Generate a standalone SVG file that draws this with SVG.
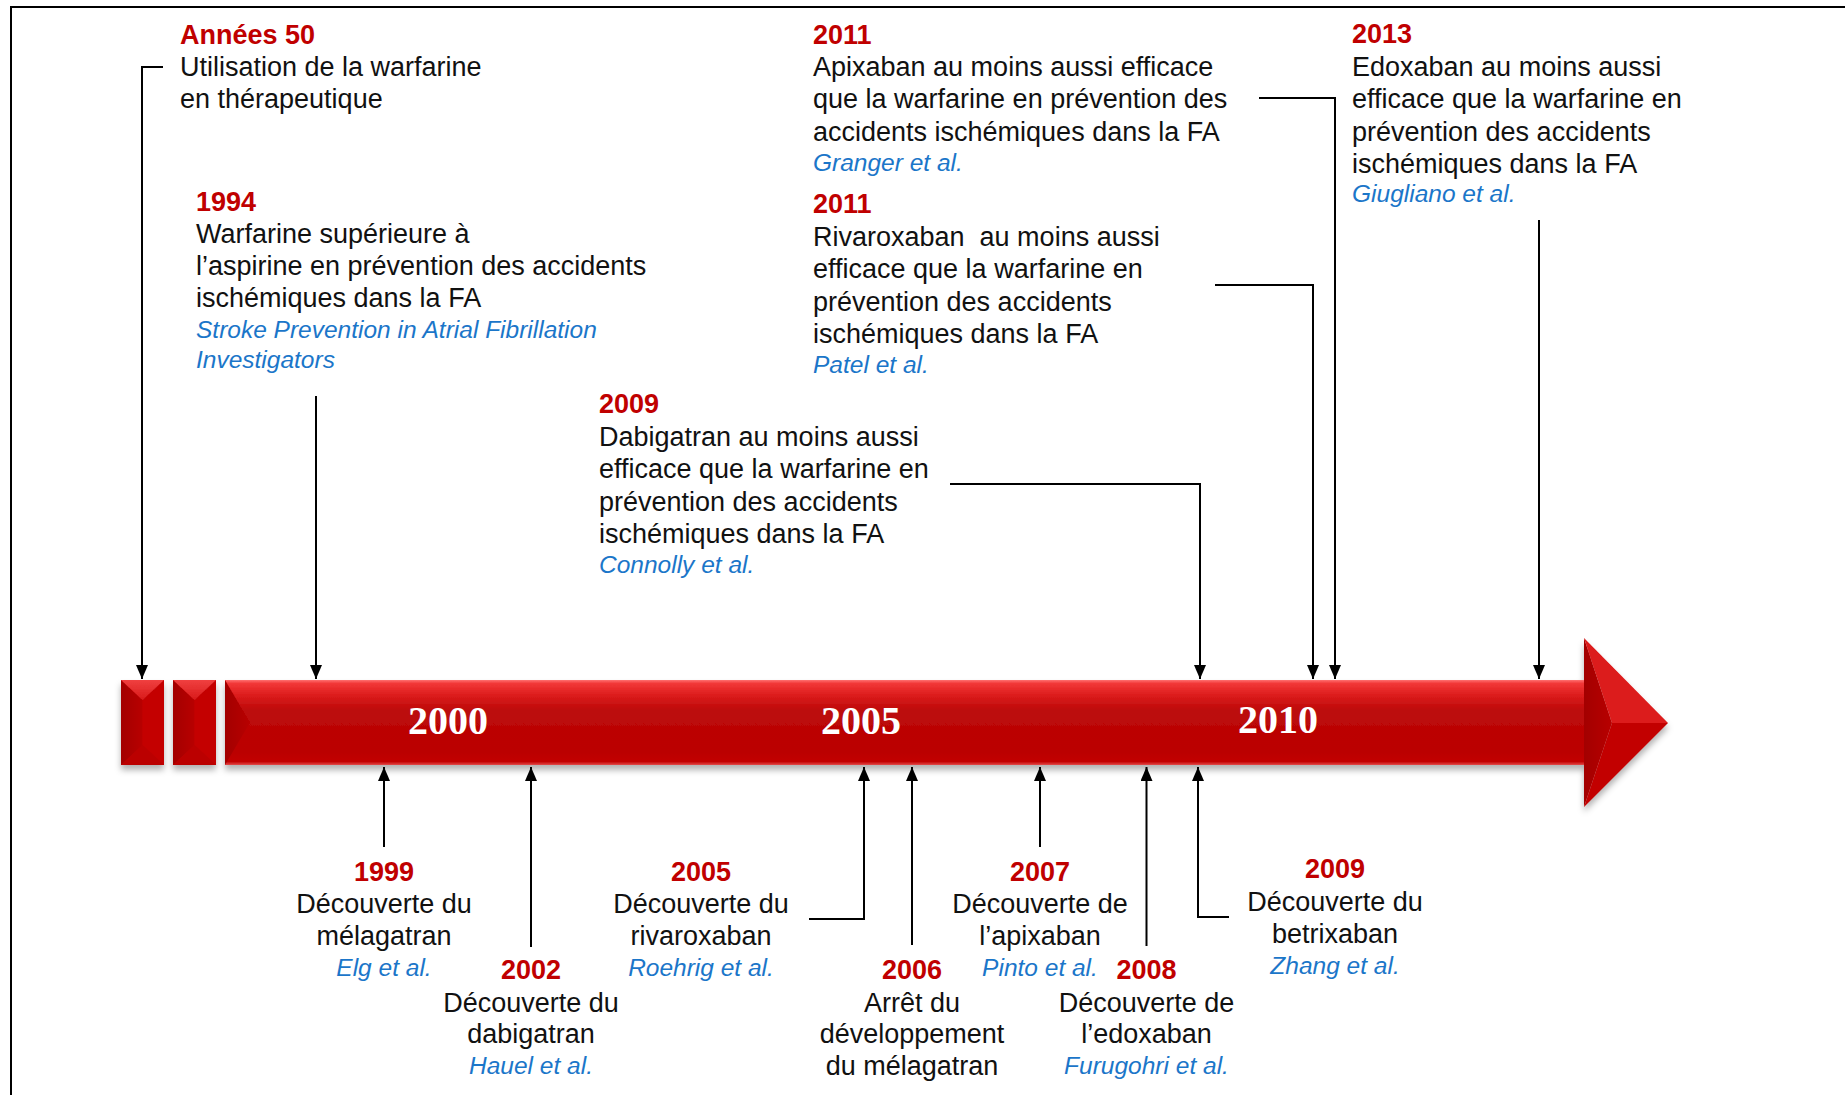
<svg xmlns="http://www.w3.org/2000/svg" width="1845" height="1095" viewBox="0 0 1845 1095">
<style>
text{font-family:"Liberation Sans",Arial,sans-serif}
.yr{font-size:27px;font-weight:bold;fill:#C00000}
.tx{font-size:27px;fill:#111}
.ref{font-size:24.5px;font-style:italic;fill:#1B76C9}
.c{text-anchor:middle}
.bar{font-family:"Liberation Serif","Times New Roman",serif;font-size:40px;font-weight:bold;fill:#fff;text-anchor:middle}
.cn{fill:none;stroke:#000;stroke-width:2}
.frame{fill:none;stroke:#000;stroke-width:2}
</style>
<defs>
<marker id="arr" viewBox="0 0 14 12" refX="14" refY="6" markerWidth="14" markerHeight="12" markerUnits="userSpaceOnUse" orient="auto">
<path d="M0,0 L14,6 L0,12 z" fill="#000"/>
</marker>
<linearGradient id="barGrad" x1="0" y1="0" x2="0" y2="1">
<stop offset="0" stop-color="#ff7070"/>
<stop offset="0.04" stop-color="#f23838"/>
<stop offset="0.18" stop-color="#dc1c1c"/>
<stop offset="0.36" stop-color="#bc0a0a"/>
<stop offset="0.85" stop-color="#bb0000"/>
<stop offset="0.96" stop-color="#c20303"/>
<stop offset="1" stop-color="#e44a4a"/>
</linearGradient>
<linearGradient id="leftFace" x1="0" y1="0" x2="1" y2="0">
<stop offset="0" stop-color="#a30000"/>
<stop offset="1" stop-color="#b80404"/>
</linearGradient>
<linearGradient id="topFace" x1="0" y1="0" x2="0" y2="1">
<stop offset="0" stop-color="#f04040"/>
<stop offset="1" stop-color="#d81a1a"/>
</linearGradient>
<filter id="shadow" x="-5%" y="-20%" width="110%" height="150%">
<feDropShadow dx="0" dy="5" stdDeviation="3" flood-color="#000" flood-opacity="0.3"/>
</filter>
</defs>

<path class="frame" d="M11,1095 V7 H1845"/>

<g id="timeline" filter="url(#shadow)">
<g id="block1">
<rect x="121" y="680" width="43" height="85" fill="#bf0202"/>
<polygon points="121,680 142.5,700 142.5,745 121,765" fill="url(#leftFace)"/>
<polygon points="164,680 142.5,700 142.5,745 164,765" fill="#c40606"/>
<polygon points="121,680 164,680 142.5,700" fill="url(#topFace)"/>
<polygon points="121,765 164,765 142.5,745" fill="#bb0202"/>
</g>
<g id="block2">
<rect x="173" y="680" width="43" height="85" fill="#bf0202"/>
<polygon points="173,680 194.5,700 194.5,745 173,765" fill="url(#leftFace)"/>
<polygon points="216,680 194.5,700 194.5,745 216,765" fill="#c40606"/>
<polygon points="173,680 216,680 194.5,700" fill="url(#topFace)"/>
<polygon points="173,765 216,765 194.5,745" fill="#bb0202"/>
</g>
<g id="mainbar">
<rect x="225" y="680" width="1362" height="85" fill="url(#barGrad)"/>
<polygon points="225,680 250,722.5 225,765" fill="url(#leftFace)"/>
<polygon points="1584,638 1612,723 1584,807" fill="url(#leftFace)"/>
<polygon points="1584,638 1668,723 1612,723" fill="#dc1a1a"/>
<polygon points="1612,723 1668,723 1584,807" fill="#c20000"/>
</g>
</g>
<g id="bar-labels">
<text class="bar" x="448" y="734">2000</text>
<text class="bar" x="861" y="734">2005</text>
<text class="bar" x="1278" y="733">2010</text>
</g>

<g id="connectors">
<path class="cn" d="M163,67 H142 V679" marker-end="url(#arr)"/>
<path class="cn" d="M316,396 V679" marker-end="url(#arr)"/>
<path class="cn" d="M950,484 H1200 V679" marker-end="url(#arr)"/>
<path class="cn" d="M1215,285 H1313 V679" marker-end="url(#arr)"/>
<path class="cn" d="M1259,98 H1335 V679" marker-end="url(#arr)"/>
<path class="cn" d="M1539,220 V679" marker-end="url(#arr)"/>
<path class="cn" d="M384,847 V767" marker-end="url(#arr)"/>
<path class="cn" d="M531,947 V767" marker-end="url(#arr)"/>
<path class="cn" d="M809,919 H864 V767" marker-end="url(#arr)"/>
<path class="cn" d="M912,945 V767" marker-end="url(#arr)"/>
<path class="cn" d="M1040,847 V767" marker-end="url(#arr)"/>
<path class="cn" d="M1146.5,946 V767" marker-end="url(#arr)"/>
<path class="cn" d="M1229,917 H1198 V767" marker-end="url(#arr)"/>
</g>

<g id="n-annees50">
<text class="yr" x="180" y="43.5">Années 50</text>
<text class="tx" x="180" y="76">Utilisation de la warfarine</text>
<text class="tx" x="180" y="108.4">en thérapeutique</text>
</g>
<g id="n-1994">
<text class="yr" x="196" y="210.7">1994</text>
<text class="tx" x="196" y="242.7">Warfarine supérieure à</text>
<text class="tx" x="196" y="275.3">l’aspirine en prévention des accidents</text>
<text class="tx" x="196" y="307.3">ischémiques dans la FA</text>
<text class="ref" x="196" y="338.3">Stroke Prevention in Atrial Fibrillation</text>
<text class="ref" x="196" y="368.3">Investigators</text>
</g>
<g id="n-2009-top">
<text class="yr" x="599" y="413.3">2009</text>
<text class="tx" x="599" y="446">Dabigatran au moins aussi</text>
<text class="tx" x="599" y="478.3">efficace que la warfarine en</text>
<text class="tx" x="599" y="510.5">prévention des accidents</text>
<text class="tx" x="599" y="543.3">ischémiques dans la FA</text>
<text class="ref" x="599" y="573.3">Connolly et al.</text>
</g>
<g id="n-2011-apixaban">
<text class="yr" x="813" y="44">2011</text>
<text class="tx" x="813" y="76">Apixaban au moins aussi efficace</text>
<text class="tx" x="813" y="108.3">que la warfarine en prévention des</text>
<text class="tx" x="813" y="140.7">accidents ischémiques dans la FA</text>
<text class="ref" x="813" y="170.7">Granger et al.</text>
</g>
<g id="n-2011-rivaroxaban">
<text class="yr" x="813" y="213.3">2011</text>
<text class="tx" x="813" y="246" xml:space="preserve">Rivaroxaban  au moins aussi</text>
<text class="tx" x="813" y="278.3">efficace que la warfarine en</text>
<text class="tx" x="813" y="310.7">prévention des accidents</text>
<text class="tx" x="813" y="343.3">ischémiques dans la FA</text>
<text class="ref" x="813" y="373.3">Patel et al.</text>
</g>
<g id="n-2013">
<text class="yr" x="1352" y="43.3">2013</text>
<text class="tx" x="1352" y="76">Edoxaban au moins aussi</text>
<text class="tx" x="1352" y="108.3">efficace que la warfarine en</text>
<text class="tx" x="1352" y="140.5">prévention des accidents</text>
<text class="tx" x="1352" y="172.7">ischémiques dans la FA</text>
<text class="ref" x="1352" y="201.7">Giugliano et al.</text>
</g>

<g id="n-1999">
<text class="yr c" x="384" y="880.7">1999</text>
<text class="tx c" x="384" y="913.3">Découverte du</text>
<text class="tx c" x="384" y="945">mélagatran</text>
<text class="ref c" x="384" y="976">Elg et al.</text>
</g>
<g id="n-2002">
<text class="yr c" x="531" y="979.3">2002</text>
<text class="tx c" x="531" y="1011.7">Découverte du</text>
<text class="tx c" x="531" y="1043.3">dabigatran</text>
<text class="ref c" x="531" y="1074.3">Hauel et al.</text>
</g>
<g id="n-2005">
<text class="yr c" x="701" y="880.7">2005</text>
<text class="tx c" x="701" y="913.3">Découverte du</text>
<text class="tx c" x="701" y="945">rivaroxaban</text>
<text class="ref c" x="701" y="976">Roehrig et al.</text>
</g>
<g id="n-2006">
<text class="yr c" x="912" y="979.3">2006</text>
<text class="tx c" x="912" y="1011.7">Arrêt du</text>
<text class="tx c" x="912" y="1043.3">développement</text>
<text class="tx c" x="912" y="1075">du mélagatran</text>
</g>
<g id="n-2007">
<text class="yr c" x="1040" y="880.7">2007</text>
<text class="tx c" x="1040" y="913.3">Découverte de</text>
<text class="tx c" x="1040" y="945">l’apixaban</text>
<text class="ref c" x="1040" y="976">Pinto et al.</text>
</g>
<g id="n-2008">
<text class="yr c" x="1146.5" y="979.3">2008</text>
<text class="tx c" x="1146.5" y="1011.7">Découverte de</text>
<text class="tx c" x="1146.5" y="1043.3">l’edoxaban</text>
<text class="ref c" x="1146.5" y="1074.3">Furugohri et al.</text>
</g>
<g id="n-2009-bottom">
<text class="yr c" x="1335" y="878.3">2009</text>
<text class="tx c" x="1335" y="910.7">Découverte du</text>
<text class="tx c" x="1335" y="943.3">betrixaban</text>
<text class="ref c" x="1335" y="974">Zhang et al.</text>
</g>
</svg>
